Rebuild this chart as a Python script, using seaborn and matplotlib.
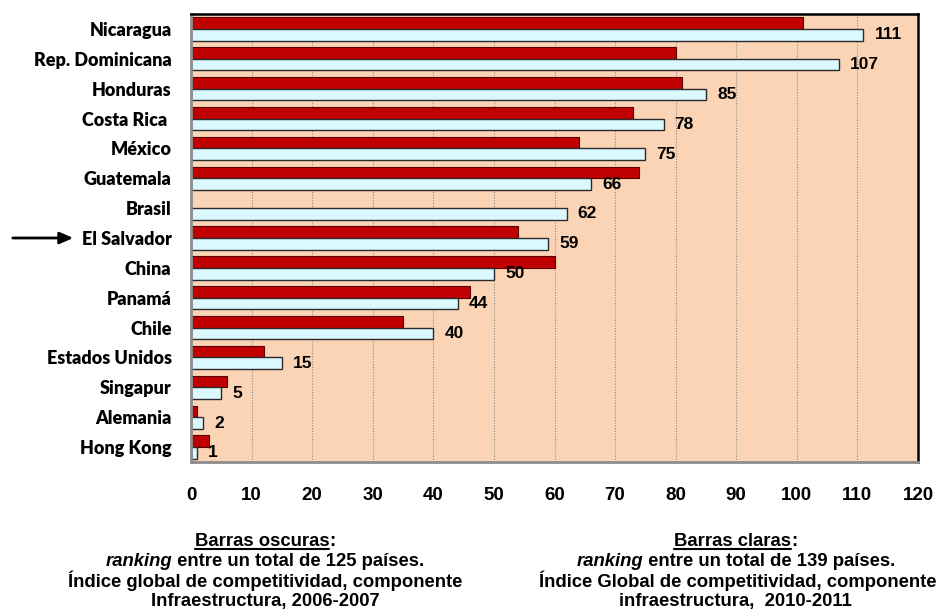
import numpy as np
import pandas as pd
import seaborn as sns
import matplotlib.pyplot as plt
from matplotlib.lines import Line2D

## data
paises = ["Nicaragua", "Rep. Dominicana", "Honduras", "Costa Rica ", "México",
          "Guatemala", "Brasil", "El Salvador", "China", "Panamá", "Chile",
          "Estados Unidos", "Singapur", "Alemania", "Hong Kong"]
oscuras = [101, 80, 81, 73, 64, 74, np.nan, 54, 60, 46, 35, 12, 6, 1, 3]   # 2006-2007
claras = [111, 107, 85, 78, 75, 66, 62, 59, 50, 44, 40, 15, 5, 2, 1]      # 2010-2011
series = ["2006-2007", "2010-2011"]
x_ticks = list(range(0, 121, 10))

df = pd.DataFrame({
    "pais": paises * 2,
    "rank": oscuras + claras,
    "serie": [series[0]] * len(paises) + [series[1]] * len(paises),
})

sns.set_style("white")
plt.rcParams["font.family"] = ["Liberation Sans", "DejaVu Sans"]
plt.rcParams["text.color"] = "black"
plt.rcParams["xtick.color"] = "black"
plt.rcParams["ytick.color"] = "black"

fig = plt.figure(figsize=(9.37, 6.12), dpi=100)
ax = fig.add_axes([191 / 937, 1 - 462 / 612, (918 - 191) / 937, (462 - 14) / 612])
ax.set_facecolor("#FAD4B4")

sns.barplot(data=df, y="pais", x="rank", hue="serie", order=paises,
            hue_order=series, palette=["#C00000", "#DBF8FF"], saturation=1,
            width=0.78, legend=False, ax=ax)

for bar in ax.containers[0]:
    bar.set_edgecolor("#5a0000")
    bar.set_linewidth(0.8)
for bar in ax.containers[1]:
    bar.set_edgecolor("#2b2b2b")
    bar.set_linewidth(1.0)

ax.bar_label(ax.containers[1], fmt="{:.0f}", padding=8, fontsize=12.5,
             fontweight="bold", color="black")

## axes styling
ax.set_xlim(0, 120)
ax.set_ylim(len(paises) - 0.5, -0.5)
ax.set_xticks(x_ticks)
ax.set_xlabel("")
ax.set_ylabel("")
ax.set_axisbelow(True)
ax.xaxis.grid(True, linestyle=(0, (1, 1.5)), color="#8a8a8a", linewidth=0.8)

ax.tick_params(axis="x", length=5, width=1, color="#8c8c8c", pad=13,
               labelsize=13.5, labelcolor="black")
for lab in ax.get_xticklabels():
    lab.set_fontweight("bold")

ax.tick_params(axis="y", which="major", length=0, pad=14, labelcolor="black")
ax.set_yticks(np.arange(-0.5, len(paises), 1), minor=True)
ax.tick_params(axis="y", which="minor", length=5, width=1, color="#8c8c8c")
for lab in ax.get_yticklabels():
    lab.set_fontfamily(["Lato", "DejaVu Sans"])
    lab.set_fontweight("heavy")
    lab.set_fontsize(13)

for side in ["top", "right"]:
    ax.spines[side].set_color("black")
    ax.spines[side].set_linewidth(1.8)
for side in ["left", "bottom"]:
    ax.spines[side].set_color("#8c8c8c")
    ax.spines[side].set_linewidth(2)

## arrow pointing at El Salvador
ax.annotate("", xy=(76 / 937, paises.index("El Salvador")),
            xytext=(10 / 937, paises.index("El Salvador")),
            xycoords=("figure fraction", "data"),
            textcoords=("figure fraction", "data"),
            arrowprops=dict(arrowstyle="-|>,head_length=0.8,head_width=0.35",
                            color="black", lw=2))

## notes under the chart
renderer = fig.canvas.get_renderer()


def text_line(xc, y, parts, size=13.3, underline_first=False):
    # parts: list of (text, style); draw them side by side, centred on xc
    widths = []
    for txt, style in parts:
        t = fig.text(0, 0, txt, fontsize=size, fontweight="bold", fontstyle=style)
        widths.append(t.get_window_extent(renderer).width)
        t.remove()
    x = xc - sum(widths) / 2
    for i, ((txt, style), w) in enumerate(zip(parts, widths)):
        fig.text(x / 937, 1 - y / 612, txt, fontsize=size, fontweight="bold",
                 fontstyle=style, va="baseline", ha="left", color="black")
        if underline_first and i == 0:
            fig.add_artist(Line2D([x / 937, (x + w) / 937],
                                  [1 - (y + 3) / 612, 1 - (y + 3) / 612],
                                  color="black", lw=1.5))
        x += w


text_line(265, 546, [("Barras oscuras", "normal"), (":", "normal")], underline_first=True)
text_line(265, 566, [("ranking", "italic"), (" entre un total de 125 países.", "normal")])
text_line(265, 587, [("Índice global de competitividad, componente", "normal")])
text_line(265, 606, [("Infraestructura, 2006-2007", "normal")])

text_line(736, 546, [("Barras claras", "normal"), (":", "normal")], underline_first=True)
text_line(736, 566, [("ranking", "italic"), (" entre un total de 139 países.", "normal")])
text_line(738, 587, [("Índice Global de competitividad, componente", "normal")])
text_line(735, 606, [("infraestructura,  2010-2011", "normal")])

fig.savefig("out.png", dpi=100)
